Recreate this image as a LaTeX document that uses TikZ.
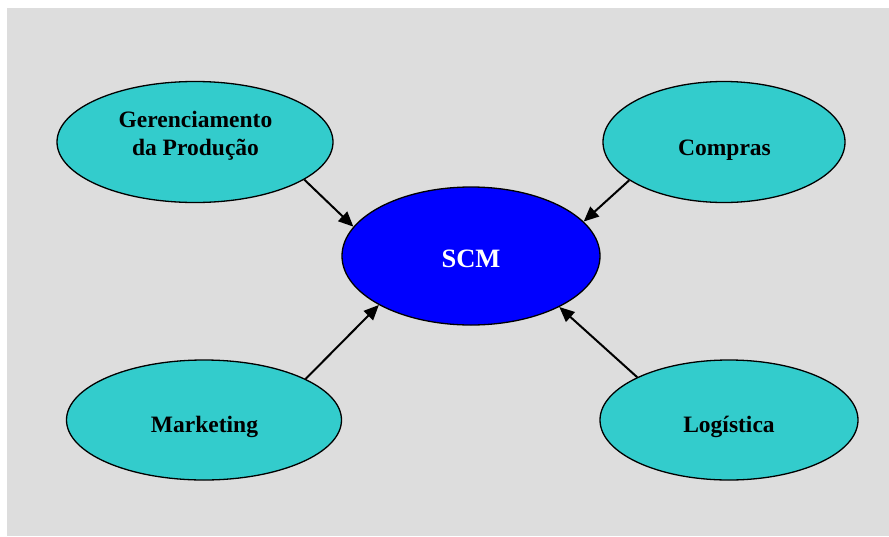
\documentclass[tikz,border=0pt]{standalone}
\usepackage{fontspec}
\setmainfont{Liberation Serif}
\usetikzlibrary{shapes.geometric,arrows.meta}
\definecolor{bg}{HTML}{DDDDDD}
\definecolor{tealfill}{HTML}{33CCCC}
\definecolor{scmblue}{HTML}{0000FF}
\begin{document}
\begin{tikzpicture}[x=1pt,y=-1pt,
  oval/.style={ellipse,draw=black,line width=1.3pt,fill=tealfill,inner sep=0pt},
  lbl/.style={font=\fontsize{23.5}{28}\selectfont\bfseries,align=center,inner sep=0pt},
  arr/.style={line width=2pt,-{Triangle[length=15pt,width=13pt]}}]
\useasboundingbox (0,0) rectangle (889,536);
\fill[bg] (7,8) rectangle (889,536);
\node[oval,minimum width=276pt,minimum height=121pt] (ger) at (195,142) {};
\node[oval,minimum width=242pt,minimum height=121pt] (com) at (724,142) {};
\node[oval,minimum width=258pt,minimum height=138pt,fill=scmblue] (scm) at (471,256) {};
\node[oval,minimum width=275pt,minimum height=120pt] (mkt) at (204,420) {};
\node[oval,minimum width=258pt,minimum height=120pt] (log) at (729,420) {};
\node[lbl] (gert) at (195.5,135.5) {Gerenciamento\\da Produção};
\node[lbl] (comt) at (724.5,150) {Compras};
\node[lbl,text=white,font=\fontsize{26.5}{30}\selectfont\bfseries] (scmt) at (471,258.5) {SCM};
\node[lbl] (mktt) at (204.5,427) {Marketing};
\node[lbl] (logt) at (729,427) {Logística};
\draw[arr] (ger.-19) -- (scm.166.8);
\draw[arr] (com.202.5) -- (scm.17.4);
\draw[arr] (mkt.22.2) -- (scm.208.9);
\draw[arr] (log.155.9) -- (scm.330.8);
\end{tikzpicture}
\end{document}
